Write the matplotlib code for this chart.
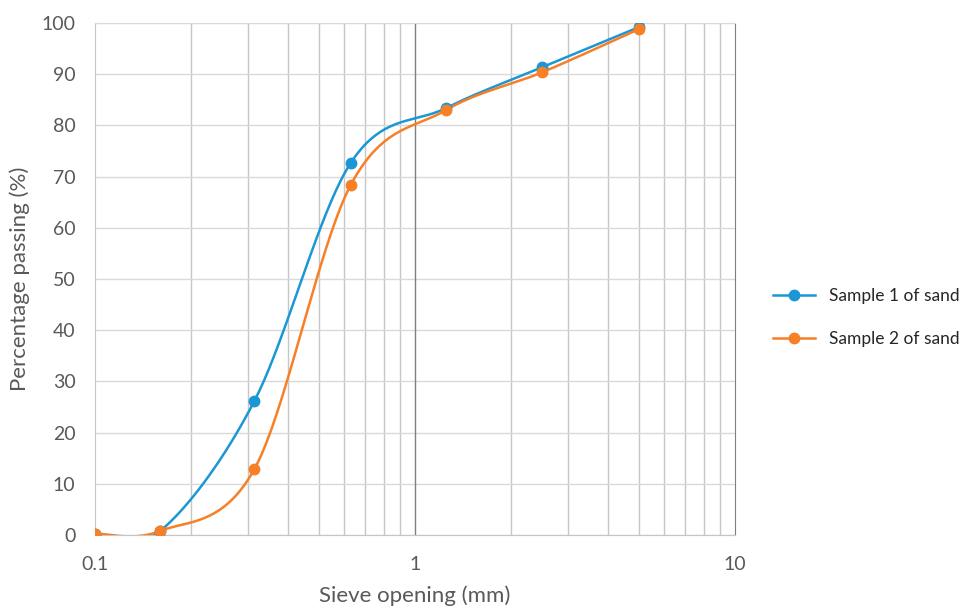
import numpy as np
import matplotlib
matplotlib.use("Agg")
import matplotlib.pyplot as plt
from matplotlib.ticker import FixedLocator, NullFormatter

# sieve openings (mm) and percentage passing
sieve_mm = [0.1, 0.16, 0.315, 0.63, 1.25, 2.5, 5.0]
sample1 = [0.3, 0.8, 26.2, 72.7, 83.4, 91.4, 99.2]
sample2 = [0.3, 0.8, 12.9, 68.4, 83.0, 90.4, 98.8]
series_names = ["Sample 1 of sand", "Sample 2 of sand"]

BLUE = "#1c97d5"
ORANGE = "#f77f26"
TXT = "#595959"


def smooth(xs, ys, n=40):
    """Excel-like smoothed line: Catmull-Rom bezier in (log10 x, y) space."""
    p = np.column_stack([np.log10(xs), ys])
    out = []
    for i in range(len(p) - 1):
        p0 = p[i - 1] if i > 0 else p[i]
        p1, p2 = p[i], p[i + 1]
        p3 = p[i + 2] if i + 2 < len(p) else p[i + 1]
        c1 = p1 + (p2 - p0) / 6.0
        c2 = p2 - (p3 - p1) / 6.0
        t = np.linspace(0, 1, n)[:, None]
        seg = ((1 - t) ** 3) * p1 + 3 * ((1 - t) ** 2) * t * c1 \
            + 3 * (1 - t) * t ** 2 * c2 + t ** 3 * p2
        out.append(seg if i == 0 else seg[1:])
    pts = np.vstack(out)
    return 10 ** pts[:, 0], pts[:, 1]


plt.rcParams["font.family"] = ["Lato", "DejaVu Sans"]

fig = plt.figure(figsize=(9.69, 6.08), dpi=100)
ax = fig.add_axes([0.098, 0.12, 0.6605, 0.842])

ax.set_xscale("log")
ax.set_xlim(0.1, 10)
ax.set_ylim(0, 100)

# grid
minors = [m * d for d in (0.1, 1) for m in range(2, 10)]
ax.xaxis.set_major_locator(FixedLocator([0.1, 1, 10]))
ax.xaxis.set_minor_locator(FixedLocator(minors))
ax.xaxis.set_minor_formatter(NullFormatter())
ax.set_xticklabels(["0.1", "1", "10"])
ax.set_yticks(range(0, 101, 10))
ax.grid(True, which="minor", axis="x", color="#c6c6c6", lw=1.0)
ax.grid(True, which="major", axis="y", color="#d9d9d9", lw=1.0)
ax.axvline(1, color="#7f7f7f", lw=1.0, zorder=1)
ax.set_axisbelow(True)

ax.spines["top"].set_color("#d9d9d9")
ax.spines["left"].set_color("#c6c6c6")
ax.spines["bottom"].set_color("#c6c6c6")
ax.spines["right"].set_color("#7f7f7f")
ax.tick_params(which="both", length=0, labelsize=14, colors=TXT)
ax.tick_params(axis="x", pad=15)
ax.tick_params(axis="y", pad=14)

for ys, c, name in ((sample1, BLUE, series_names[0]), (sample2, ORANGE, series_names[1])):
    sx, sy = smooth(sieve_mm, ys)
    ax.plot(sx, sy, color=c, lw=1.8, zorder=3)
    ax.plot(sieve_mm, ys, "o", color=c, ms=7.5, zorder=4)
    ax.plot([], [], "-o", color=c, lw=1.8, ms=7.5, label=name)

ax.set_xlabel("Sieve opening (mm)", fontsize=16, color=TXT, labelpad=9)
ax.set_ylabel("Percentage passing (%)", fontsize=16, color=TXT, labelpad=8)

leg = ax.legend(loc="center left", bbox_to_anchor=(1.035, 0.425), frameon=False,
                fontsize=12.5, labelspacing=1.55, handlelength=2.4, handletextpad=0.8)
for t in leg.get_texts():
    t.set_color("#262626")

fig.savefig("out.png", dpi=100, facecolor="white")
